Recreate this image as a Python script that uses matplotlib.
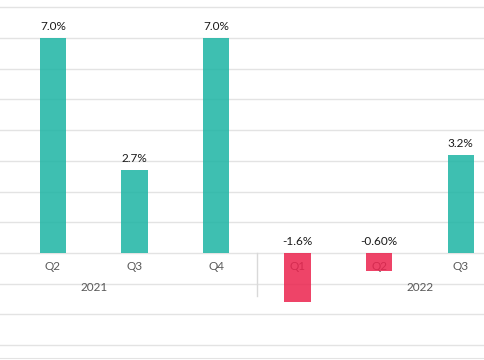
import matplotlib.pyplot as plt

plt.rcParams['font.family'] = ['Lato', 'DejaVu Sans']

years = [2021, 2021, 2021, 2022, 2022, 2022]
quarters = [2, 3, 4, 1, 2, 3]
values = [7.0, 2.7, 7.0, -1.6, -0.6, 3.2]
labels = ["7.0%", "2.7%", "7.0%", "-1.6%", "-0.60%", "3.2%"]

teal = "#1CB4A4"
red = "#EB234E"

# one slot per quarter, four per year (the chart is cropped at both ends)
x = [(y - 2021) * 4 + (q - 1) for y, q in zip(years, quarters)]
colors = [teal if v >= 0 else red for v in values]

fig = plt.figure(figsize=(4.85, 3.6), dpi=100)
ax = fig.add_axes([0, 2 / 360, 1, 358 / 360])

ax.set_xlim(0.35, 6.30)
ax.set_ylim(-3.42, 8.24)

for g in range(-3, 9):
    ax.axhline(g, color="#e3e3e3", lw=1, zorder=0)

# category labels sit under the bars
for xi, q in zip(x, quarters):
    ax.annotate("Q%d" % q, (xi, 0), xytext=(0, -10), textcoords="offset points",
                ha="center", va="center", fontsize=8.5, color="#595959", zorder=1)
for yr in sorted(set(years)):
    xc = (yr - 2021) * 4 + 1.5
    ax.annotate(str(yr), (xc, 0), xytext=(0, -25), textcoords="offset points",
                ha="center", va="center", fontsize=8.5, color="#595959", zorder=1)

# separator between the years
for yr in sorted(set(years))[1:]:
    xs = (yr - 2021) * 4 - 0.5
    ax.plot([xs, xs], [0, -1.4], color="#d9d9d9", lw=1, zorder=1)

ax.bar(x, values, width=0.32, color=colors, alpha=0.85, zorder=2)

for xi, v, lab in zip(x, values, labels):
    ax.annotate(lab, (xi, max(v, 0)), xytext=(0, 8), textcoords="offset points",
                ha="center", va="center", fontsize=8.5, color="#1a1a1a", zorder=3)

ax.set_xticks([])
ax.set_yticks([])
for s in ["top", "left", "right"]:
    ax.spines[s].set_visible(False)
ax.spines["bottom"].set_color("#e3e3e3")

fig.savefig("out.png", dpi=100)
